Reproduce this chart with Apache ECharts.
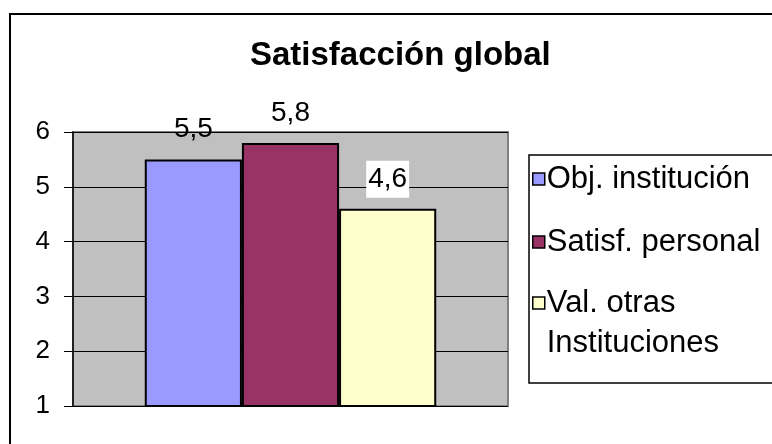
<!DOCTYPE html>
<html>
<head>
<meta charset="utf-8">
<script src="https://cdn.jsdelivr.net/npm/echarts@6/dist/echarts.min.js"></script>
<style>
  html, body { margin: 0; padding: 0; background: #fff; }
  #chart { width: 772px; height: 444px; }
</style>
</head>
<body>
<div id="chart"></div>
<script>
// datos
var categories = [''];
var seriesNames = ['Obj. institución', 'Satisf. personal', 'Val. otras\nInstituciones'];
var objInstitucion = [5.5];
var satisfPersonal = [5.8];
var valOtras = [4.6];
var yTicks = [1, 2, 3, 4, 5, 6];

var colors = ['#9999FF', '#993366', '#FFFFCC'];
var fontFam = 'Liberation Sans, Arial, sans-serif';

function labelFmt(p) {
	return String(p.value).replace('.', ',');
}

function barSeries(name, data, color, withBg) {
	return {
		name: name,
		type: 'bar',
		data: data,
		barGap: '0%',
		barCategoryGap: '33%',
		itemStyle: { color: color, borderColor: '#000', borderWidth: 2 },
		label: {
			show: true,
			position: 'top',
			distance: withBg ? 11 : 16,
			formatter: labelFmt,
			fontFamily: fontFam,
			fontSize: 28,
			color: '#000',
			backgroundColor: withBg ? '#fff' : 'transparent',
			padding: withBg ? [5, 2, 4, 2] : 0
		}
	};
}

var legendText = { fontFamily: fontFam, fontSize: 31, lineHeight: 40, color: '#000', padding: [0, 0, 0, -3] };

var chart = echarts.init(document.getElementById('chart'));
chart.setOption({
	animation: false,
	title: {
		text: 'Satisfacción global',
		left: 245,
		top: 34,
		textStyle: { fontFamily: fontFam, fontSize: 33, fontWeight: 'bold', color: '#000' }
	},
	legend: [{
		orient: 'vertical',
		left: 532,
		top: 159,
		padding: 0,
		itemGap: 23,
		itemWidth: 12,
		itemHeight: 12,
		icon: 'rect',
		data: [seriesNames[0], seriesNames[1]],
		itemStyle: { borderColor: '#000', borderWidth: 1.5 },
		textStyle: legendText
	}, {
		orient: 'vertical',
		left: 532,
		top: 243,
		padding: 0,
		itemWidth: 12,
		itemHeight: 12,
		icon: 'rect',
		data: [seriesNames[2]],
		// linea vacia arriba para que el icono quede junto a la primera linea
		formatter: function(name) { return '\n' + name; },
		itemStyle: { borderColor: '#000', borderWidth: 1.5 },
		textStyle: legendText
	}],
	grid: {
		left: 73,
		right: 264,
		top: 132,
		bottom: 38,
		show: true,
		backgroundColor: '#C0C0C0',
		borderColor: '#808080',
		borderWidth: 2
	},
	xAxis: {
		type: 'category',
		data: categories,
		axisLine: { show: false },
		axisTick: { show: false },
		axisLabel: { show: false }
	},
	yAxis: {
		type: 'value',
		min: yTicks[0],
		max: yTicks[yTicks.length - 1],
		interval: 1,
		axisLine: { show: true, lineStyle: { color: '#000', width: 1.5 } },
		axisTick: { show: true, length: 9, lineStyle: { color: '#000' } },
		axisLabel: { fontFamily: fontFam, fontSize: 26, color: '#000', margin: 23 },
		splitLine: { show: true, lineStyle: { color: '#000', width: 1 } }
	},
	series: [
		barSeries(seriesNames[0], objInstitucion, colors[0], false),
		barSeries(seriesNames[1], satisfPersonal, colors[1], false),
		barSeries(seriesNames[2], valOtras, colors[2], true)
	],
	graphic: [{
		type: 'rect',
		shape: { x: 10, y: 14, width: 800, height: 460 },
		style: { fill: null, stroke: '#000', lineWidth: 2 },
		silent: true
	}, {
		type: 'rect',
		shape: { x: 529, y: 155, width: 300, height: 228 },
		style: { fill: null, stroke: '#000', lineWidth: 1.5 },
		silent: true
	}]
});
</script>
</body>
</html>
